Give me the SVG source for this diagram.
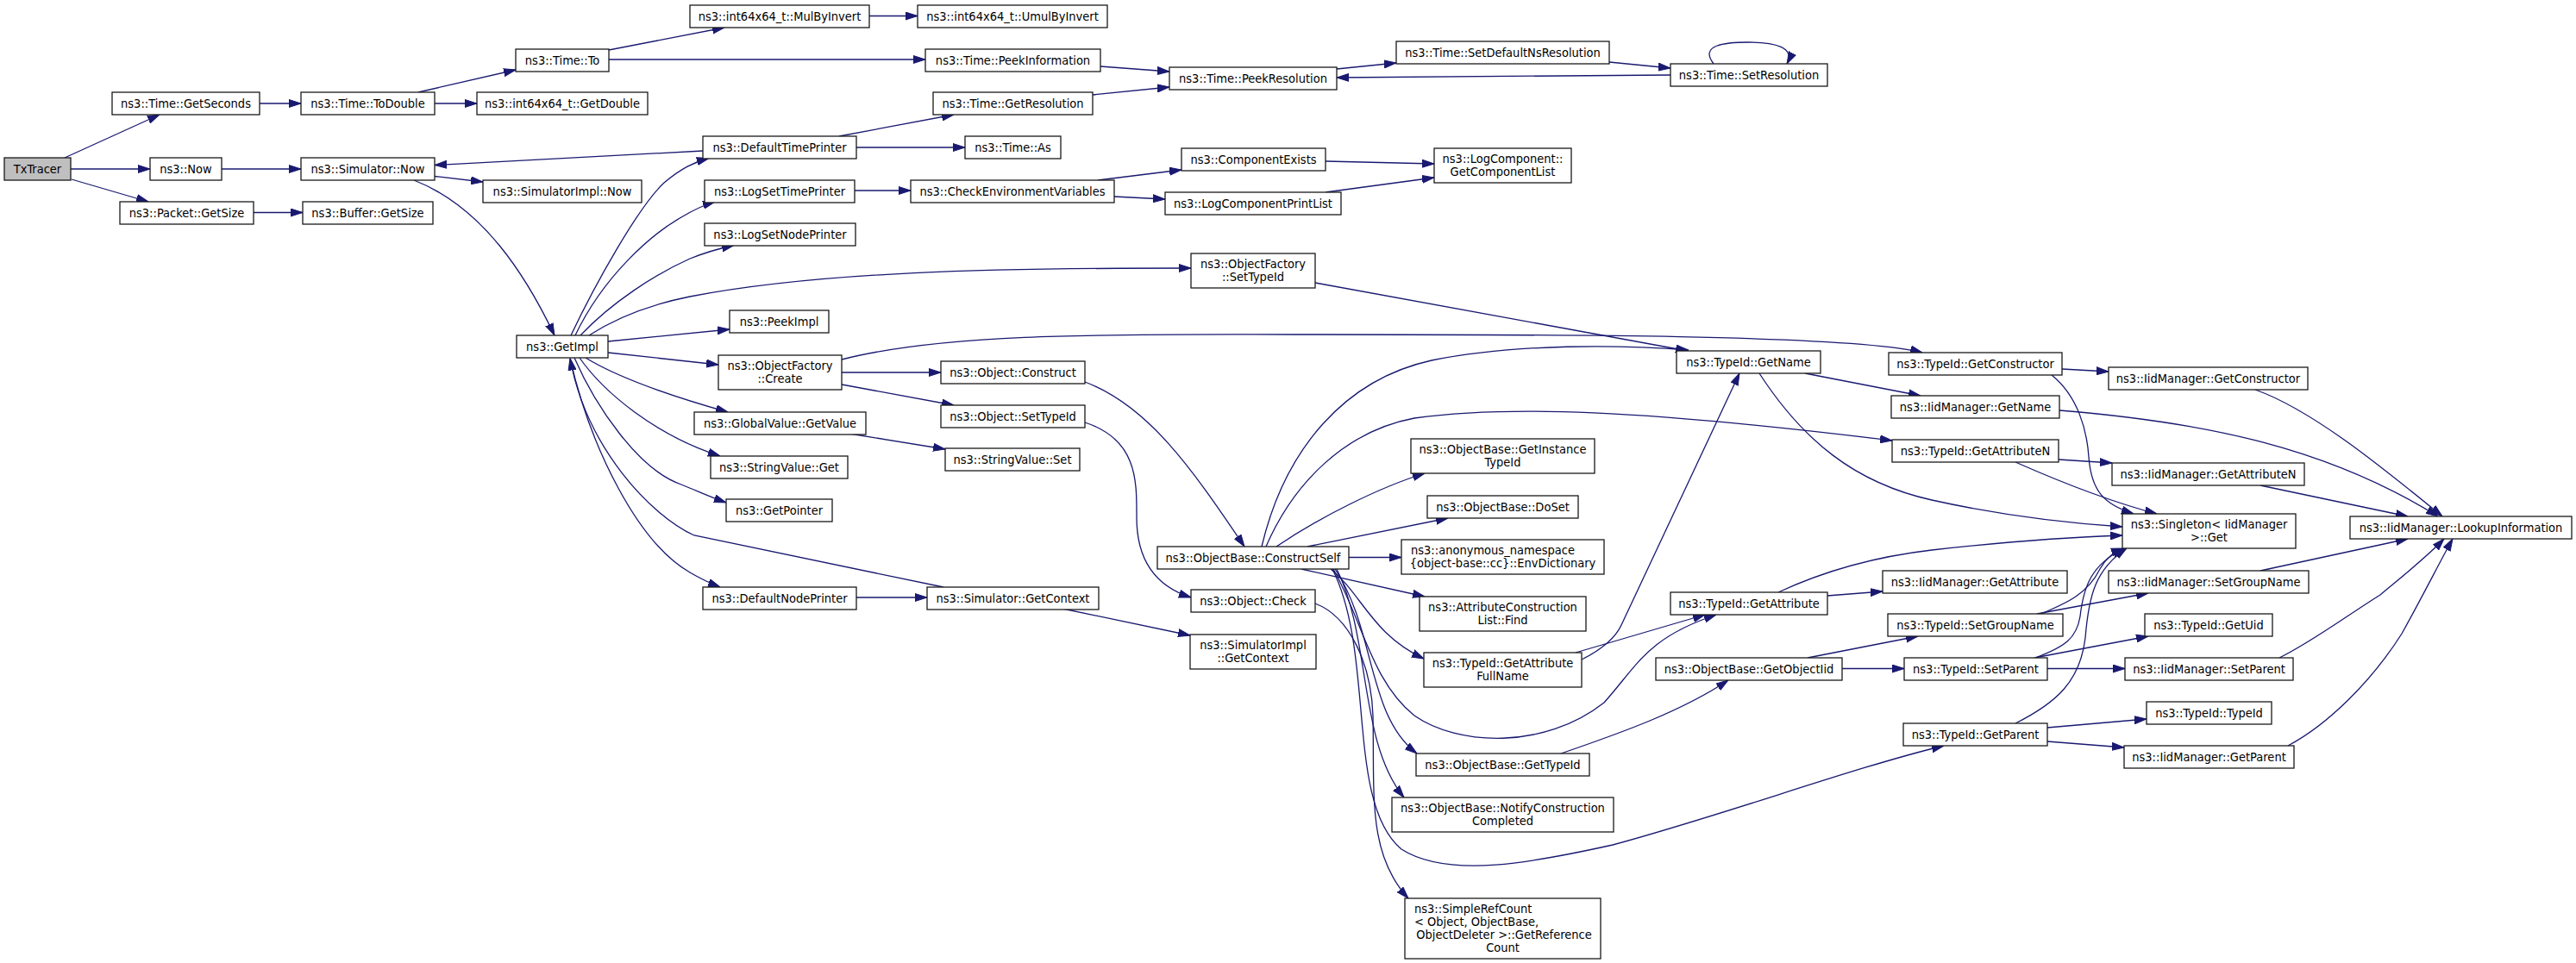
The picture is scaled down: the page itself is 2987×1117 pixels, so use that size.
<svg xmlns="http://www.w3.org/2000/svg" width="2987" height="1117" viewBox="0 0 2987 1117">
<style>
.n rect{fill:#fff;stroke:#1a1a1a;stroke-width:1.3}
.n.root rect{fill:#bfbfbf}
text{font-family:"DejaVu Sans Condensed","DejaVu Sans",sans-serif;font-stretch:condensed;font-size:14.5px;text-anchor:middle;fill:#000}
text.l{text-anchor:start}
.e path{fill:none;stroke:#191970;stroke-width:1.3;marker-end:url(#a)}
</style>
<defs>
<marker id="a" markerWidth="14" markerHeight="10" refX="14" refY="5" orient="auto" markerUnits="userSpaceOnUse"><path d="M0,0.5 L14,5 L0,9.5 z" fill="#191970" stroke="#191970" stroke-width="1"/></marker>
</defs>
<rect width="2987" height="1117" fill="#fff"/>
<g class="e" id="edges">
<path d="M75,183 L185,133"/>
<path d="M82,196 L174,196"/>
<path d="M83,208 L172,234"/>
<path d="M301,120 L349,120"/>
<path d="M485,107 L598,81"/>
<path d="M504,120 L553,120"/>
<path d="M257,196 L349,196"/>
<path d="M504,204.5 L560,211"/>
<path d="M294,246.5 L351,246.5"/>
<path d="M480,209 C560,240 610,320 643,389"/>
<path d="M815,175 L504,191.5"/>
<path d="M706,58 L840,32"/>
<path d="M706,69 L1073,69"/>
<path d="M1008,18.5 L1064,18.5"/>
<path d="M1276,77 L1356,83"/>
<path d="M1267,110 L1356,101"/>
<path d="M1550,80 L1619,73"/>
<path d="M1866,72 L1937,79"/>
<path d="M1937,87 L1550,90"/>
<path d="M1987,74 C1970,52 2000,49 2028,49 C2058,49 2082,55 2072,74"/>
<path d="M973,158 L1106,133"/>
<path d="M993,171 L1119,171"/>
<path d="M991,221 L1056,221"/>
<path d="M1273,209 L1370,197"/>
<path d="M1292,228 L1351,231"/>
<path d="M1537,187 L1663,190"/>
<path d="M1537,223 L1663,206"/>
<path d="M662,389 C690,330 740,240 770,212 C790,195 805,188 822,183.5"/>
<path d="M667,389 C700,320 755,272 790,252 C805,243 815,238 829,234"/>
<path d="M673,389 C710,350 760,318 800,300 C820,292 835,288 851,284.5"/>
<path d="M683,389 C720,365 760,352 800,344 C950,315 1150,311 1381,311"/>
<path d="M705,396 L846,382"/>
<path d="M705,409 L833,423"/>
<path d="M679,415 C720,440 780,460 844,478"/>
<path d="M672,415 C700,455 760,505 835,529"/>
<path d="M666,415 C690,470 740,545 790,562 C810,570 825,577 842,583"/>
<path d="M661,416 C685,520 740,630 800,664 C812,671 822,676 835,681"/>
<path d="M1094,681 L805,621 C755,598 680,520 661,415.5"/>
<path d="M976,432 L1091,432"/>
<path d="M976,446 L1106,470"/>
<path d="M976,417 C1100,385 1300,388 1500,388 C1800,388 2150,388 2229,409"/>
<path d="M1525,328 L1957,407"/>
<path d="M985,503 L1096,521"/>
<path d="M993,693 L1075,693"/>
<path d="M1232,706 L1380,737"/>
<path d="M1258,443 C1330,470 1380,540 1443,634"/>
<path d="M1258,490 C1320,510 1318,560 1318,600 C1318,650 1340,680 1381,693"/>
<path d="M1463,634 C1490,520 1560,440 1660,418 C1760,398 1880,400 1958,406"/>
<path d="M1468,634 C1500,560 1560,500 1640,485 C1750,470 1900,475 2194,511"/>
<path d="M1480,634 C1530,600 1600,565 1652,549"/>
<path d="M1516,634 L1679,601"/>
<path d="M1564,646.5 L1625,646.5"/>
<path d="M1509,660 L1652,692"/>
<path d="M1543,660 C1580,690 1590,735 1651,764"/>
<path d="M1546,660 C1580,720 1590,790 1640,830 C1690,865 1790,870 1860,815 C1900,770 1910,740 1990,713"/>
<path d="M1548,660 C1595,730 1585,830 1643,874"/>
<path d="M1550,660 C1590,740 1575,860 1628,925"/>
<path d="M1545,660 C1595,760 1560,930 1625,985 C1680,1020 1780,1000 1870,980 C2000,945 2150,890 2254,865"/>
<path d="M1525,700 C1565,715 1590,770 1592,830 C1594,920 1585,990 1633,1042"/>
<path d="M1834,765 C1860,752 1874,738 1880,725 L2017,433"/>
<path d="M1827,757 L1977,713"/>
<path d="M1810,874 C1880,850 1950,825 2004,789"/>
<path d="M2093,433 L2227,459"/>
<path d="M2040,433 C2090,510 2150,560 2240,580 C2330,600 2400,607 2461,611"/>
<path d="M2391,428 L2445,431"/>
<path d="M2379,435 C2410,460 2420,500 2422,530 C2425,570 2440,585 2474,596"/>
<path d="M2615,452 C2680,475 2760,540 2832,599"/>
<path d="M2388,476 C2560,490 2700,520 2827,599"/>
<path d="M2387,533 L2449,537"/>
<path d="M2337,536 C2380,555 2440,580 2501,596"/>
<path d="M2621,563 L2792,599"/>
<path d="M2062,687 C2120,660 2180,645 2240,638 C2330,628 2400,623 2461,621"/>
<path d="M2119,691 L2183,686"/>
<path d="M2621,662 L2792,625"/>
<path d="M2362,712 L2491,688"/>
<path d="M2367,712 C2395,700 2420,690 2435,660 C2442,648 2450,640 2462,636"/>
<path d="M2096,763 L2224,738"/>
<path d="M2136,775.5 L2208,775.5"/>
<path d="M2359,763 L2491,738"/>
<path d="M2374,775.5 L2464,775.5"/>
<path d="M2360,763 C2395,750 2408,740 2412,715 C2416,680 2425,655 2463,636"/>
<path d="M2337,839 C2385,815 2412,790 2418,740 C2422,690 2430,660 2466,636"/>
<path d="M2643,763 C2680,745 2720,715 2760,690 C2790,665 2815,645 2834,625"/>
<path d="M2653,865 C2700,840 2750,790 2785,735 C2810,690 2830,650 2844,625"/>
<path d="M2374,844 L2489,834"/>
<path d="M2374,860 L2463,867"/>
</g>
<g class="n root" id="n1"><rect x="5" y="183" width="77" height="26"/><text x="43.5" y="200.5">TxTracer</text></g>
<g class="n" id="n2"><rect x="130" y="107" width="171" height="26"/><text x="215.5" y="124.5">ns3::Time::GetSeconds</text></g>
<g class="n" id="n3"><rect x="174" y="183" width="83" height="26"/><text x="215.5" y="200.5">ns3::Now</text></g>
<g class="n" id="n4"><rect x="139" y="234" width="155" height="26"/><text x="216.5" y="251.5">ns3::Packet::GetSize</text></g>
<g class="n" id="n5"><rect x="349" y="107" width="155" height="26"/><text x="426.5" y="124.5">ns3::Time::ToDouble</text></g>
<g class="n" id="n6"><rect x="349" y="183" width="155" height="26"/><text x="426.5" y="200.5">ns3::Simulator::Now</text></g>
<g class="n" id="n7"><rect x="351" y="234" width="151" height="26"/><text x="426.5" y="251.5">ns3::Buffer::GetSize</text></g>
<g class="n" id="n8"><rect x="598" y="57" width="108" height="26"/><text x="652" y="74.5">ns3::Time::To</text></g>
<g class="n" id="n9"><rect x="553" y="107" width="198" height="26"/><text x="652" y="124.5">ns3::int64x64_t::GetDouble</text></g>
<g class="n" id="n10"><rect x="560" y="209" width="184" height="26"/><text x="652" y="226.5">ns3::SimulatorImpl::Now</text></g>
<g class="n" id="n11"><rect x="800" y="6" width="208" height="26"/><text x="904" y="23.5">ns3::int64x64_t::MulByInvert</text></g>
<g class="n" id="n12"><rect x="1064" y="6" width="220" height="26"/><text x="1174" y="23.5">ns3::int64x64_t::UmulByInvert</text></g>
<g class="n" id="n13"><rect x="1073" y="57" width="203" height="26"/><text x="1174.5" y="74.5">ns3::Time::PeekInformation</text></g>
<g class="n" id="n14"><rect x="1356" y="78" width="194" height="26"/><text x="1453" y="95.5">ns3::Time::PeekResolution</text></g>
<g class="n" id="n15"><rect x="1082" y="107" width="185" height="26"/><text x="1174.5" y="124.5">ns3::Time::GetResolution</text></g>
<g class="n" id="n16"><rect x="815" y="158" width="178" height="26"/><text x="904" y="175.5">ns3::DefaultTimePrinter</text></g>
<g class="n" id="n17"><rect x="1119" y="158" width="111" height="26"/><text x="1174.5" y="175.5">ns3::Time::As</text></g>
<g class="n" id="n18"><rect x="817" y="209" width="174" height="26"/><text x="904" y="226.5">ns3::LogSetTimePrinter</text></g>
<g class="n" id="n19"><rect x="1056" y="209" width="236" height="26"/><text x="1174" y="226.5">ns3::CheckEnvironmentVariables</text></g>
<g class="n" id="n20"><rect x="1370" y="172" width="167" height="26"/><text x="1453.5" y="189.5">ns3::ComponentExists</text></g>
<g class="n" id="n21"><rect x="1351" y="223" width="204" height="26"/><text x="1453" y="240.5">ns3::LogComponentPrintList</text></g>
<g class="n" id="n22"><rect x="817" y="259" width="175" height="26"/><text x="904.5" y="276.5">ns3::LogSetNodePrinter</text></g>
<g class="n" id="n23"><rect x="1381" y="294" width="144" height="40"/><text x="1453" y="310.5">ns3::ObjectFactory</text><text x="1453" y="325.5">::SetTypeId</text></g>
<g class="n" id="n24"><rect x="846" y="360" width="115" height="26"/><text x="903.5" y="377.5">ns3::PeekImpl</text></g>
<g class="n" id="n25"><rect x="1619" y="48" width="247" height="26"/><text x="1742.5" y="65.5">ns3::Time::SetDefaultNsResolution</text></g>
<g class="n" id="n26"><rect x="1937" y="74" width="182" height="26"/><text x="2028" y="91.5">ns3::Time::SetResolution</text></g>
<g class="n" id="n27"><rect x="1663" y="172" width="159" height="40"/><text x="1742.5" y="188.5">ns3::LogComponent::</text><text x="1742.5" y="203.5">GetComponentList</text></g>
<g class="n" id="n28"><rect x="599" y="389" width="106" height="26"/><text x="652" y="406.5">ns3::GetImpl</text></g>
<g class="n" id="n29"><rect x="833" y="412" width="143" height="40"/><text x="904.5" y="428.5">ns3::ObjectFactory</text><text x="904.5" y="443.5">::Create</text></g>
<g class="n" id="n30"><rect x="1091" y="419" width="167" height="26"/><text x="1174.5" y="436.5">ns3::Object::Construct</text></g>
<g class="n" id="n31"><rect x="1091" y="470" width="167" height="26"/><text x="1174.5" y="487.5">ns3::Object::SetTypeId</text></g>
<g class="n" id="n32"><rect x="805" y="478" width="199" height="26"/><text x="904.5" y="495.5">ns3::GlobalValue::GetValue</text></g>
<g class="n" id="n33"><rect x="824" y="529" width="159" height="26"/><text x="903.5" y="546.5">ns3::StringValue::Get</text></g>
<g class="n" id="n34"><rect x="1096" y="520" width="156" height="26"/><text x="1174" y="537.5">ns3::StringValue::Set</text></g>
<g class="n" id="n35"><rect x="842" y="579" width="123" height="26"/><text x="903.5" y="596.5">ns3::GetPointer</text></g>
<g class="n" id="n36"><rect x="815" y="681" width="178" height="26"/><text x="904" y="698.5">ns3::DefaultNodePrinter</text></g>
<g class="n" id="n37"><rect x="1075" y="681" width="199" height="26"/><text x="1174.5" y="698.5">ns3::Simulator::GetContext</text></g>
<g class="n" id="n38"><rect x="1342" y="634" width="222" height="26"/><text x="1453" y="651.5">ns3::ObjectBase::ConstructSelf</text></g>
<g class="n" id="n39"><rect x="1381" y="684" width="144" height="26"/><text x="1453" y="701.5">ns3::Object::Check</text></g>
<g class="n" id="n40"><rect x="1380" y="736" width="146" height="40"/><text x="1453" y="752.5">ns3::SimulatorImpl</text><text x="1453" y="767.5">::GetContext</text></g>
<g class="n" id="n41"><rect x="1944" y="407" width="167" height="26"/><text x="2027.5" y="424.5">ns3::TypeId::GetName</text></g>
<g class="n" id="n42"><rect x="2190" y="409" width="201" height="26"/><text x="2290.5" y="426.5">ns3::TypeId::GetConstructor</text></g>
<g class="n" id="n43"><rect x="2193" y="459" width="195" height="26"/><text x="2290.5" y="476.5">ns3::IidManager::GetName</text></g>
<g class="n" id="n44"><rect x="2194" y="510" width="193" height="26"/><text x="2290.5" y="527.5">ns3::TypeId::GetAttributeN</text></g>
<g class="n" id="n45"><rect x="1636" y="509" width="213" height="40"/><text x="1742.5" y="525.5">ns3::ObjectBase::GetInstance</text><text x="1742.5" y="540.5">TypeId</text></g>
<g class="n" id="n46"><rect x="1655" y="575" width="175" height="26"/><text x="1742.5" y="592.5">ns3::ObjectBase::DoSet</text></g>
<g class="n" id="n47"><rect x="1625" y="626" width="235" height="40"/><text class="l" x="1636" y="642.5">ns3::anonymous_namespace</text><text x="1742.5" y="657.5">{object-base::cc}::EnvDictionary</text></g>
<g class="n" id="n48"><rect x="1646" y="692" width="193" height="40"/><text x="1742.5" y="708.5">ns3::AttributeConstruction</text><text x="1742.5" y="723.5">List::Find</text></g>
<g class="n" id="n49"><rect x="1937" y="687" width="182" height="26"/><text x="2028" y="704.5">ns3::TypeId::GetAttribute</text></g>
<g class="n" id="n50"><rect x="2183" y="662" width="214" height="26"/><text x="2290" y="679.5">ns3::IidManager::GetAttribute</text></g>
<g class="n" id="n51"><rect x="2189" y="712" width="203" height="26"/><text x="2290.5" y="729.5">ns3::TypeId::SetGroupName</text></g>
<g class="n" id="n52"><rect x="2461" y="596" width="201" height="40"/><text x="2561.5" y="612.5">ns3::Singleton&lt; IidManager</text><text x="2561.5" y="627.5">&gt;::Get</text></g>
<g class="n" id="n53"><rect x="2445" y="426" width="231" height="26"/><text x="2560.5" y="443.5">ns3::IidManager::GetConstructor</text></g>
<g class="n" id="n54"><rect x="2449" y="537" width="223" height="26"/><text x="2560.5" y="554.5">ns3::IidManager::GetAttributeN</text></g>
<g class="n" id="n55"><rect x="2725" y="599" width="257" height="26"/><text x="2853.5" y="616.5">ns3::IidManager::LookupInformation</text></g>
<g class="n" id="n56"><rect x="2445" y="662" width="232" height="26"/><text x="2561" y="679.5">ns3::IidManager::SetGroupName</text></g>
<g class="n" id="n57"><rect x="2487" y="712" width="148" height="26"/><text x="2561" y="729.5">ns3::TypeId::GetUid</text></g>
<g class="n" id="n58"><rect x="1651" y="757" width="183" height="40"/><text x="1742.5" y="773.5">ns3::TypeId::GetAttribute</text><text x="1742.5" y="788.5">FullName</text></g>
<g class="n" id="n59"><rect x="1920" y="763" width="216" height="26"/><text x="2028" y="780.5">ns3::ObjectBase::GetObjectIid</text></g>
<g class="n" id="n60"><rect x="2208" y="763" width="166" height="26"/><text x="2291" y="780.5">ns3::TypeId::SetParent</text></g>
<g class="n" id="n61"><rect x="2207" y="839" width="167" height="26"/><text x="2290.5" y="856.5">ns3::TypeId::GetParent</text></g>
<g class="n" id="n62"><rect x="1642" y="874" width="201" height="26"/><text x="1742.5" y="891.5">ns3::ObjectBase::GetTypeId</text></g>
<g class="n" id="n63"><rect x="1614" y="925" width="257" height="40"/><text x="1742.5" y="941.5">ns3::ObjectBase::NotifyConstruction</text><text x="1742.5" y="956.5">Completed</text></g>
<g class="n" id="n64"><rect x="1629" y="1042" width="227" height="70"/><text class="l" x="1640" y="1058.5">ns3::SimpleRefCount</text><text class="l" x="1640" y="1073.5">&lt; Object, ObjectBase,</text><text x="1744" y="1088.5">ObjectDeleter &gt;::GetReference</text><text x="1742.5" y="1103.5">Count</text></g>
<g class="n" id="n65"><rect x="2464" y="763" width="195" height="26"/><text x="2561.5" y="780.5">ns3::IidManager::SetParent</text></g>
<g class="n" id="n66"><rect x="2489" y="814" width="145" height="26"/><text x="2561.5" y="831.5">ns3::TypeId::TypeId</text></g>
<g class="n" id="n67"><rect x="2463" y="865" width="197" height="26"/><text x="2561.5" y="882.5">ns3::IidManager::GetParent</text></g>
</svg>
